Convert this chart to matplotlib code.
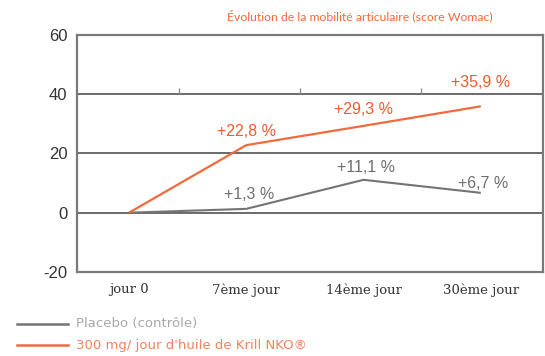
import matplotlib.pyplot as plt

plt.rcParams['axes.unicode_minus'] = False

# données : évolution du score Womac (%)
categories = ['jour 0', '7ème jour', '14ème jour', '30ème jour']
placebo = [0, 1.3, 11.1, 6.7]
krill = [0, 22.8, 29.3, 35.9]
placebo_labels = ['', '+1,3 %', '+11,1 %', '+6,7 %']
krill_labels = ['', '+22,8 %', '+29,3 %', '+35,9 %']

orange = '#f26a3c'
gris = '#747474'

fig = plt.figure(figsize=(5.45, 3.56), dpi=100)
ax = fig.add_axes([0.1413, 0.236, 0.855, 0.666])

x = list(range(len(categories)))
ax.plot(x, placebo, color=gris, lw=1.5, solid_capstyle='butt')
ax.plot(x, krill, color=orange, lw=1.6, solid_capstyle='butt')

# étiquettes de valeur (décalage vertical en points, centre du texte)
dy_krill = [0, 10, 12, 17]
dy_placebo = [0, 10, 8.6, 7]
for i in x:
    if krill_labels[i]:
        ax.annotate(krill_labels[i], (i, krill[i]), xytext=(0, dy_krill[i]),
                    textcoords='offset points', ha='center', va='center',
                    color='#ee5a2e', fontsize=11.5, family='Liberation Sans')
    if placebo_labels[i]:
        ax.annotate(placebo_labels[i], (i, placebo[i]), xytext=(2, dy_placebo[i]),
                    textcoords='offset points', ha='center', va='center',
                    color='#6e6e6e', fontsize=11.5, family='Liberation Sans')

ax.set_ylim(-20, 60)
ax.set_xlim(-0.443, 3.53)
ax.set_yticks([-20, 0, 20, 40, 60])
for y in [0, 20, 40]:
    ax.axhline(y, color='#6a6a6a', lw=1.4, zorder=0)
# petites graduations au-dessus de la ligne 40
ax.vlines([0.43, 1.46, 2.49], 40, 42.2, color='#8a8a8a', lw=1)

for s in ax.spines.values():
    s.set_color('#7a7a7a')
    s.set_linewidth(1.6)

ax.set_xticks(x)
ax.set_xticklabels(categories, family='DejaVu Serif', fontsize=9.5, color='#333333')
ax.tick_params(axis='x', length=0, pad=8)
ax.tick_params(axis='y', length=0, pad=7, labelsize=12, labelcolor='#333333')
for lab in ax.get_yticklabels():
    lab.set_family('Liberation Sans')

fig.text(0.66, 0.955, 'Évolution de la mobilité articulaire (score Womac)',
         ha='center', va='center', color=orange, fontsize=8.8, family='Lato')

# légende
fig.lines.append(plt.Line2D([17 / 545, 68 / 545], [1 - 324 / 356] * 2, color=gris,
                            lw=1.8, transform=fig.transFigure))
fig.lines.append(plt.Line2D([17 / 545, 68 / 545], [1 - 345 / 356] * 2, color=orange,
                            lw=1.8, transform=fig.transFigure))
fig.text(76 / 545, 1 - 324 / 356, 'Placebo (contrôle)', va='center',
         color='#a8a8a8', fontsize=9.5)
fig.text(76 / 545, 1 - 345 / 356, '300 mg/ jour d\'huile de Krill NKO®', va='center',
         color='#f4825d', fontsize=9.5)

fig.savefig('out.png', dpi=100)
